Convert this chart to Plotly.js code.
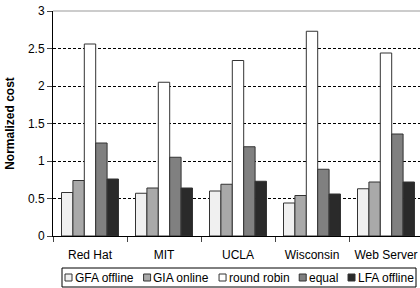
<!DOCTYPE html>
<html>
<head>
<meta charset="utf-8">
<script src="https://cdn.plot.ly/plotly-3.0.1.min.js"></script>
<style>
html,body{margin:0;padding:0;overflow:hidden;background:#fff;}
#chart{width:424px;height:288px;}
</style>
</head>
<body>
<div id="chart"></div>
<script>
const categories = ["Red Hat", "MIT", "UCLA", "Wisconsin", "Web Server"];
const seriesNames = ["GFA offline", "GIA online", "round robin", "equal", "LFA offline"];
const gfaOffline = [0.58, 0.57, 0.60, 0.44, 0.63];
const giaOnline  = [0.74, 0.64, 0.69, 0.54, 0.72];
const roundRobin = [2.56, 2.05, 2.34, 2.73, 2.44];
const equalShare = [1.24, 1.05, 1.19, 0.89, 1.36];
const lfaOffline = [0.76, 0.64, 0.73, 0.56, 0.72];
const yTicks = [0, 0.5, 1, 1.5, 2, 2.5, 3];

const seriesValues = [gfaOffline, giaOnline, roundRobin, equalShare, lfaOffline];
const fills = ["#f0f0f0", "#a9a9a9", "#ffffff", "#808080", "#2a2a2a"];

const traces = seriesValues.map((vals, i) => ({
  type: "bar",
  name: seriesNames[i],
  x: categories,
  y: vals,
  marker: {color: fills[i], line: {color: "#333333", width: 1}},
  hoverinfo: "none"
}));

// plot geometry
const W = 424, H = 288;
const mL = 53, mR = 1, mT = 11, mB = 52;
const pw = W - mL - mR, ph = H - mT - mB;
const px = v => (v - mL) / pw;
const py = v => (H - mB - v) / ph;

// custom legend
const legFont = 12;
const ctx = document.createElement("canvas").getContext("2d");
ctx.font = legFont + "px 'Liberation Sans'";
const tw = seriesNames.map(s => ctx.measureText(s).width);
const boxL = 62, boxR = 416, boxT = 268, boxB = 287;
const sq = 7, sqGap = 1.5;
const totalText = tw.reduce((a, b) => a + b, 0);
const inner = (boxR - boxL) - 6;
let itemGap = (inner - 5 * (sq + sqGap) - totalText) / 4;
if (itemGap < 3) itemGap = 3;
const shapes = [];
const annotations = [];
shapes.push({type: "rect", xref: "paper", yref: "paper", x0: px(boxL), x1: px(boxR), y0: py(boxB), y1: py(boxT),
  line: {color: "#000", width: 1}, fillcolor: "rgba(0,0,0,0)"});
let cx = boxL + 3;
const cy = 277.5;
seriesNames.forEach((s, i) => {
  shapes.push({type: "rect", xref: "paper", yref: "paper", x0: px(cx), x1: px(cx + sq), y0: py(cy + sq / 2), y1: py(cy - sq / 2),
    line: {color: "#333", width: 1}, fillcolor: fills[i]});
  annotations.push({xref: "paper", yref: "paper", x: px(cx + sq + sqGap), y: py(cy), xanchor: "left", yanchor: "middle",
    text: s, showarrow: false, borderpad: 0, font: {family: "Liberation Sans", size: legFont, color: "#000"}});
  cx += sq + sqGap + tw[i] + itemGap;
});
// top frame line (gray)
shapes.push({type: "line", xref: "paper", yref: "paper", x0: 0, x1: 1, y0: 1, y1: 1, line: {color: "#999", width: 1}});

const layout = {
  width: W, height: H,
  margin: {l: mL, r: mR, t: mT, b: mB, pad: 0},
  paper_bgcolor: "#fff", plot_bgcolor: "#fff",
  font: {family: "Liberation Sans", size: 12, color: "#000"},
  barmode: "group", bargap: 0.23, bargroupgap: 0,
  showlegend: false,
  xaxis: {
    type: "category", showline: true, linecolor: "#000",
    ticks: "outside", tickson: "boundaries", ticklen: 5,
    ticklabelstandoff: 8,
    showgrid: false, zeroline: false, tickfont: {size: 12}, fixedrange: true
  },
  yaxis: {
    range: [0, 3], tickvals: yTicks,
    showline: true, linecolor: "#000",
    ticks: "outside", ticklen: 5,
    showgrid: true, gridcolor: "#000", griddash: "3px,2px",
    zeroline: false, tickfont: {size: 12},
    title: {text: "Normalized cost", font: {size: 12, weight: "bold"}, standoff: 10},
    fixedrange: true
  },
  shapes: shapes,
  annotations: annotations
};

Plotly.newPlot("chart", traces, layout, {displayModeBar: false, staticPlot: true});
</script>
</body>
</html>
